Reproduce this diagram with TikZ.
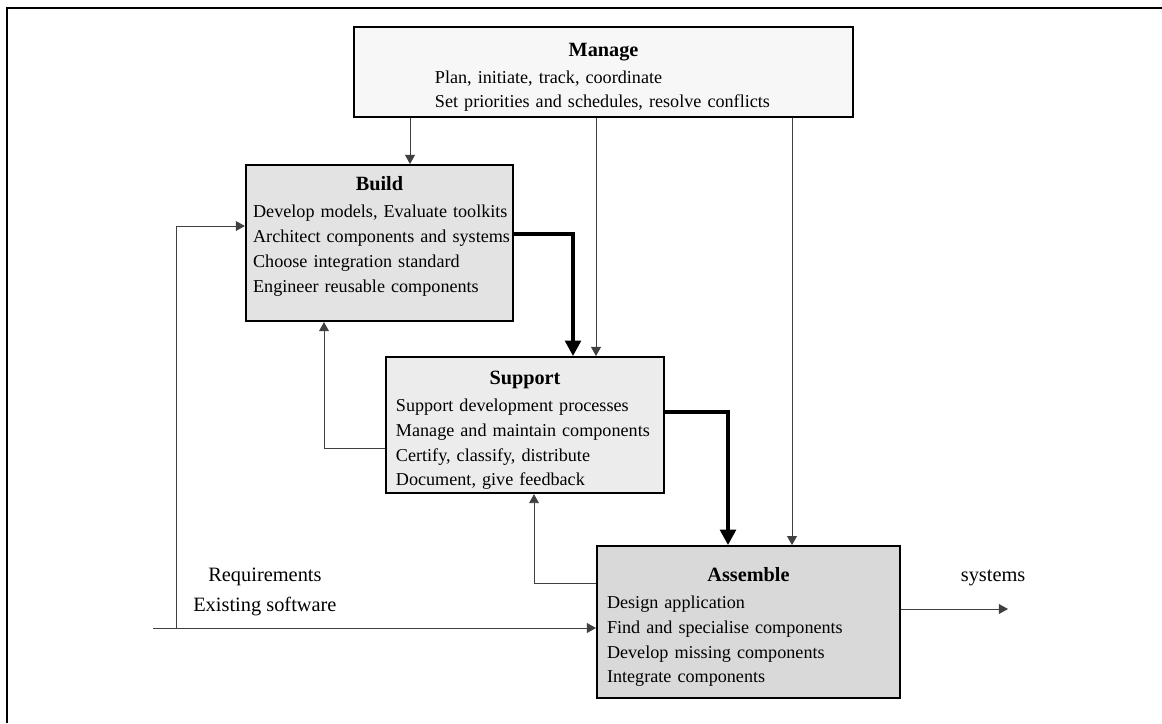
\documentclass[tikz,border=0pt]{standalone}
\usepackage{fontspec}
\setmainfont{Liberation Serif}
\usetikzlibrary{positioning,arrows.meta}
\definecolor{managefill}{gray}{0.97}
\definecolor{buildfill}{gray}{0.89}
\definecolor{supportfill}{gray}{0.925}
\definecolor{assemblefill}{gray}{0.85}
\tikzset{block/.style={draw,rectangle,line width=1.4pt,inner xsep=0.25cm,inner ysep=0pt,align=left,font=\fontsize{12.9}{17.7}\selectfont},
  flow/.style={draw=black!75,line width=0.7pt,-{Triangle[length=6.5pt,width=7pt]}},
  bigflow/.style={draw=black,line width=2.8pt,-{Triangle[length=11pt,width=11pt]}},
  caption/.style={font=\fontsize{14.5}{21}\selectfont,align=center}}
\newcommand{\blocktitle}[1]{\null\hfill\rule{0pt}{17pt}{\fontsize{14.4}{17.7}\selectfont\bfseries #1}\hfill\null\\[1.5pt]}

\begin{document}
\begin{tikzpicture}[x=0.025cm, y=-0.025cm, on grid]
\useasboundingbox (0,0) rectangle (1162,723);

% Frame
\draw[line width=1.4pt] (7,723) -- (7,8) -- (1162,8);

% Blocks
\node [block, fill=managefill, inner xsep=2.025cm, text width=8.425cm, minimum height=2.25cm] (manage) at (603.5,72) {
    \blocktitle{Manage}
    Plan, initiate, track, coordinate\\
    Set priorities and schedules, resolve conflicts
};
\node [block, fill=buildfill, inner xsep=0.18cm, text width=6.315cm, minimum height=3.9cm, below left=4.275cm and 5.6cm of manage] (build) {
    \blocktitle{Build}
    \mbox{Develop models, Evaluate toolkits}\\
    \mbox{Architect components and systems}\\
    Choose integration standard\\
    Engineer reusable components\\[1.3pt]
    \mbox{}
};
\node [block, fill=supportfill, text width=6.45cm, minimum height=3.4cm, below right=4.55cm and 3.6375cm of build] (support) {
    \blocktitle{Support}
    Support development processes\\
    Manage and maintain components\\
    Certify, classify, distribute\\
    Document, give feedback
};
\node [block, fill=assemblefill, text width=7.075cm, minimum height=3.8cm, below right=4.925cm and 5.5875cm of support] (assemble) {
    \blocktitle{Assemble}
    Design application\\
    Find and specialise components\\
    Develop missing components\\
    Integrate components
};
\node [caption, above left=0.75cm and 12.0875cm of assemble] (inputs) {Requirements\\Existing software};
\node [caption, above right=1.1cm and 6.1125cm of assemble] (systems) {systems};

%Connections
\coordinate (mb) at (410,0);
\coordinate (ms) at (596,0);
\coordinate (ma) at (792,0);
\coordinate (bs) at (573,234);
\coordinate (sa) at (728,412);
\coordinate (sb) at (324,448);
\coordinate (as) at (534,583);
\coordinate (in) at (153,628);
\coordinate (split) at (176,628);
\coordinate (bin) at (0,226);
\coordinate (out) at (1008,609);

\draw[flow] (manage.south -| mb) -- (build.north -| mb);
\draw[flow] (manage.south -| ms) -- (support.north -| ms);
\draw[flow] (manage.south -| ma) -- (assemble.north -| ma);
\draw[bigflow] (build.east |- bs) -| (support.north -| bs);
\draw[bigflow] (support.east |- sa) -| (assemble.north -| sa);
\draw[flow] (support.west |- sb) -| (build.south -| sb);
\draw[flow] (assemble.west |- as) -| (support.south -| as);
\draw[flow] (in) -- (assemble.west |- in);
\draw[flow] (split) |- (build.west |- bin);
\draw[flow] (assemble.east |- out) -- (out);

\end{tikzpicture}
\end{document}
